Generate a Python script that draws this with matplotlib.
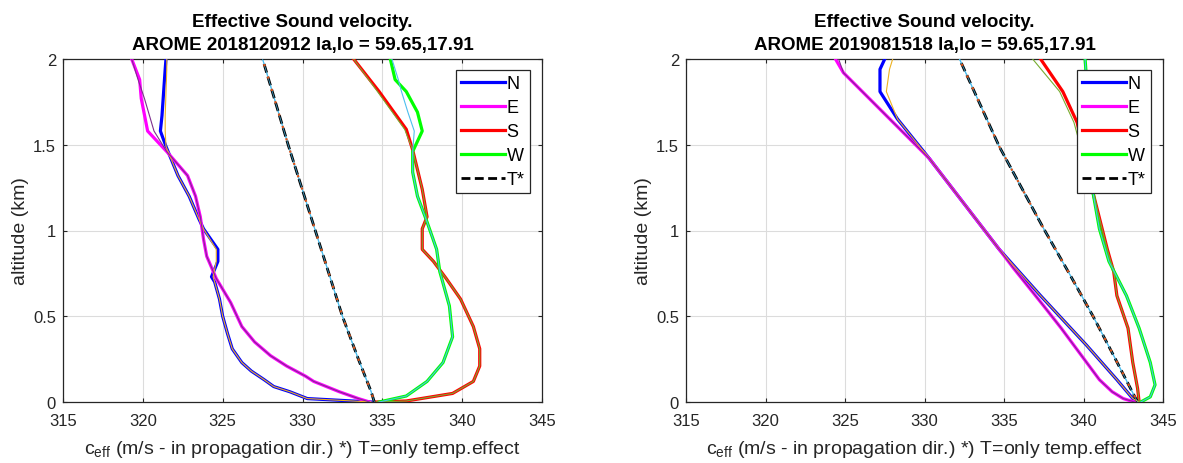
import matplotlib

matplotlib.use("Agg")
import matplotlib.pyplot as plt

plt.rcParams["font.family"] = ["Liberation Sans", "DejaVu Sans"]
plt.rcParams["mathtext.fontset"] = "custom"
plt.rcParams["mathtext.rm"] = "Liberation Sans"
plt.rcParams["mathtext.it"] = "Liberation Sans:italic"

TITLES = [
    "Effective Sound velocity.\nAROME 2018120912 la,lo = 59.65,17.91",
    "Effective Sound velocity.\nAROME 2019081518 la,lo = 59.65,17.91",
]
X_TICKS = [315, 320, 325, 330, 335, 340, 345]
Y_TICKS = [0, 0.5, 1, 1.5, 2]
LABELS = ["N", "E", "S", "W", "T*"]

# ---- panel 1: 2018120912 (altitude km, c_eff m/s) ----
p1_n_alt = [0, 0.02, 0.06, 0.09, 0.13, 0.18, 0.23, 0.31, 0.4, 0.5, 0.6, 0.7, 0.73, 0.82, 0.89, 1.01, 1.07, 1.2, 1.32, 1.49, 1.58, 1.67, 1.94, 2.0]
p1_n_val = [334.3, 330.3, 329.2, 328.2, 327.6, 326.8, 326.2, 325.6, 325.3, 325.0, 324.8, 324.5, 324.3, 324.7, 324.7, 323.8, 323.5, 322.9, 322.2, 321.45, 321.1, 321.2, 321.4, 321.45]
p1_n2_val = [334.3, 330.3, 329.2, 328.2, 327.6, 326.8, 326.2, 325.6, 325.3, 325.0, 324.8, 324.5, 324.4, 324.6, 324.6, 323.8, 323.5, 322.9, 322.2, 321.45, 321.4, 321.4, 321.5, 321.5]

p1_e_alt = [0, 0.02, 0.06, 0.12, 0.15, 0.21, 0.27, 0.35, 0.44, 0.58, 0.72, 0.85, 0.95, 1.08, 1.2, 1.32, 1.46, 1.58, 1.77, 1.88, 2.0]
p1_e_val = [334.2, 333.5, 332.3, 330.7, 330.2, 329.0, 328.0, 327.0, 326.2, 325.5, 324.6, 324.0, 323.8, 323.6, 323.3, 322.8, 321.5, 320.3, 319.9, 319.8, 319.3]
p1_e2_val = [334.2, 333.5, 332.3, 330.7, 330.2, 329.0, 328.0, 327.0, 326.2, 325.5, 324.6, 324.0, 323.8, 323.6, 323.3, 322.8, 321.5, 320.7, 320.1, 319.7, 319.3]

p1_s_alt = [0, 0.006, 0.05, 0.12, 0.21, 0.31, 0.44, 0.6, 0.72, 0.82, 0.89, 1.01, 1.08, 1.24, 1.47, 1.59, 1.81, 2.0]
p1_s_val = [334.6, 336.5, 339.4, 340.7, 341.1, 341.1, 340.7, 339.9, 339.0, 338.2, 337.5, 337.5, 337.8, 337.5, 336.9, 336.5, 334.8, 333.2]
p1_s2_val = [334.6, 336.5, 339.4, 340.7, 341.1, 341.1, 340.7, 339.9, 339.0, 338.2, 337.5, 337.5, 337.8, 337.5, 336.9, 336.4, 334.7, 333.2]

p1_w_alt = [0, 0.035, 0.12, 0.23, 0.38, 0.56, 0.76, 0.89, 1.05, 1.2, 1.34, 1.46, 1.58, 1.69, 1.81, 1.88, 2.0]
p1_w_val = [334.8, 336.5, 337.8, 338.8, 339.4, 339.2, 338.6, 338.4, 337.8, 337.2, 336.9, 336.9, 337.5, 337.2, 336.5, 335.8, 335.5]
p1_w2_val = [334.8, 336.5, 337.8, 338.8, 339.4, 339.2, 338.6, 338.4, 337.8, 337.2, 336.9, 336.9, 337.0, 336.6, 336.2, 336.0, 335.6]

p1_t_alt = [0, 0.06, 0.25, 0.5, 1.0, 1.5, 2.0]
p1_t_val = [334.5, 334.3, 333.5, 332.5, 330.8, 329.1, 327.5]

# ---- panel 2: 2019081518 ----
p2_n_alt = [0, 0.02, 0.13, 0.33, 0.62, 0.89, 1.42, 1.65, 1.81, 1.94, 2.0]
p2_n_val = [343.5, 343.1, 342.1, 340.2, 337.3, 334.7, 330.3, 328.3, 327.2, 327.2, 327.5]
p2_n2_val = [343.5, 343.1, 342.1, 340.2, 337.3, 334.7, 330.3, 328.3, 327.6, 327.8, 328.0]

p2_e_alt = [0, 0.02, 0.06, 0.13, 0.23, 0.33, 0.43, 0.56, 0.78, 0.89, 1.42, 1.92, 2.0]
p2_e_val = [343.2, 342.5, 341.8, 341.0, 340.2, 339.4, 338.6, 337.5, 335.6, 334.7, 330.3, 324.9, 324.4]
p2_e2_val = [343.2, 342.5, 341.8, 341.0, 340.2, 339.4, 338.6, 337.5, 335.6, 334.7, 330.3, 324.9, 324.6]

p2_s_alt = [0, 0.08, 0.23, 0.43, 0.62, 0.76, 0.89, 1.22, 1.63, 1.81, 2.0]
p2_s_val = [343.5, 343.4, 343.1, 342.8, 342.1, 341.9, 341.5, 340.6, 339.6, 338.7, 337.3]
p2_s2_val = [343.5, 343.4, 343.1, 342.8, 342.1, 341.9, 341.5, 340.6, 339.4, 338.5, 336.8]

p2_w_alt = [0, 0.03, 0.1, 0.23, 0.43, 0.62, 0.82, 1.01, 1.22, 1.87, 2.0]
p2_w_val = [343.6, 344.2, 344.5, 344.2, 343.5, 342.7, 341.6, 341.0, 340.6, 340.2, 340.1]
p2_w2_val = [343.6, 344.2, 344.5, 344.2, 343.5, 342.7, 341.6, 341.0, 340.6, 340.2, 340.1]

p2_t_alt = [0, 0.035, 0.27, 0.5, 0.75, 1.01, 1.49, 2.0]
p2_t_val = [343.4, 343.2, 341.9, 340.6, 339.1, 337.5, 334.7, 332.2]

THICK_COLORS = ["#0000ff", "#ff00ff", "#ff0000", "#00ff00"]
THIN_COLORS = ["#edb120", "#7e2f8e", "#77ac30", "#4dbeee"]
AX_COLOR = "#262626"


def _draw_panel(ax, title, curves, t_alt, t_val):
    for (alt, val, _), color, label in zip(curves, THICK_COLORS, LABELS):
        ax.plot(val, alt, color=color, linewidth=2.3, label=label, zorder=3)
    ax.plot(t_val, t_alt, color="#4dbeee", linewidth=0.9, zorder=3)
    ax.plot(t_val, t_alt, color="black", linestyle=(0, (3.2, 1.6)), linewidth=2.0, label=LABELS[4], zorder=4)
    # second (thin) set on top
    for (alt, _, val2), color in zip(curves, THIN_COLORS):
        ax.plot(val2, alt, color=color, linewidth=0.8, zorder=5)
    ax.plot(t_val, t_alt, color="#4dbeee", linewidth=0.6, alpha=0.8, zorder=5)
    ax.plot(t_val, t_alt, color="#d95319", linestyle=(3.4, (1.0, 4.8)), linewidth=1.6, zorder=5)

    ax.set_xlim(315, 345)
    ax.set_ylim(0, 2)
    ax.set_xticks(X_TICKS)
    ax.set_yticks(Y_TICKS)
    ax.set_yticklabels(["0", "0.5", "1", "1.5", "2"])
    ax.grid(True, color="#dcdcdc", linewidth=0.8, zorder=0)
    ax.set_axisbelow(True)
    ax.tick_params(direction="in", top=True, right=True, length=3, labelsize=12,
                   colors=AX_COLOR)
    ax.tick_params(axis="x", pad=8)
    ax.tick_params(axis="y", pad=5)
    for sp in ax.spines.values():
        sp.set_color(AX_COLOR)
        sp.set_linewidth(0.9)
    ax.set_title(title, fontsize=13.5, fontweight="bold", pad=7, linespacing=1.5)
    ax.set_xlabel(r"c$_{\mathrm{eff}}$ (m/s - in propagation dir.) *) T=only temp.effect", fontsize=14,
                  color=AX_COLOR, labelpad=7)
    ax.set_ylabel("altitude (km)", fontsize=14, color=AX_COLOR, labelpad=3)
    leg = ax.legend(loc="upper right", bbox_to_anchor=(1 - 12 / 479, 1 - 11 / 343), borderaxespad=0,
                    fontsize=13, handlelength=2.4, handletextpad=0.1, labelspacing=0.38,
                    borderpad=0.3, fancybox=False, framealpha=1, edgecolor=AX_COLOR)
    leg.get_frame().set_linewidth(0.9)
    leg.set_zorder(10)


def main() -> None:
    fig = plt.figure(figsize=(11.83, 4.64), dpi=100)
    ax1 = fig.add_axes([63 / 1183, 61 / 464, 479 / 1183, 343 / 464])
    ax2 = fig.add_axes([686 / 1183, 61 / 464, 477 / 1183, 343 / 464])

    curves1 = [
        (p1_n_alt, p1_n_val, p1_n2_val),
        (p1_e_alt, p1_e_val, p1_e2_val),
        (p1_s_alt, p1_s_val, p1_s2_val),
        (p1_w_alt, p1_w_val, p1_w2_val),
    ]
    curves2 = [
        (p2_n_alt, p2_n_val, p2_n2_val),
        (p2_e_alt, p2_e_val, p2_e2_val),
        (p2_s_alt, p2_s_val, p2_s2_val),
        (p2_w_alt, p2_w_val, p2_w2_val),
    ]
    _draw_panel(ax1, TITLES[0], curves1, p1_t_alt, p1_t_val)
    _draw_panel(ax2, TITLES[1], curves2, p2_t_alt, p2_t_val)
    fig.savefig("out.png", dpi=100)
    plt.close(fig)


if __name__ == "__main__":
    main()
